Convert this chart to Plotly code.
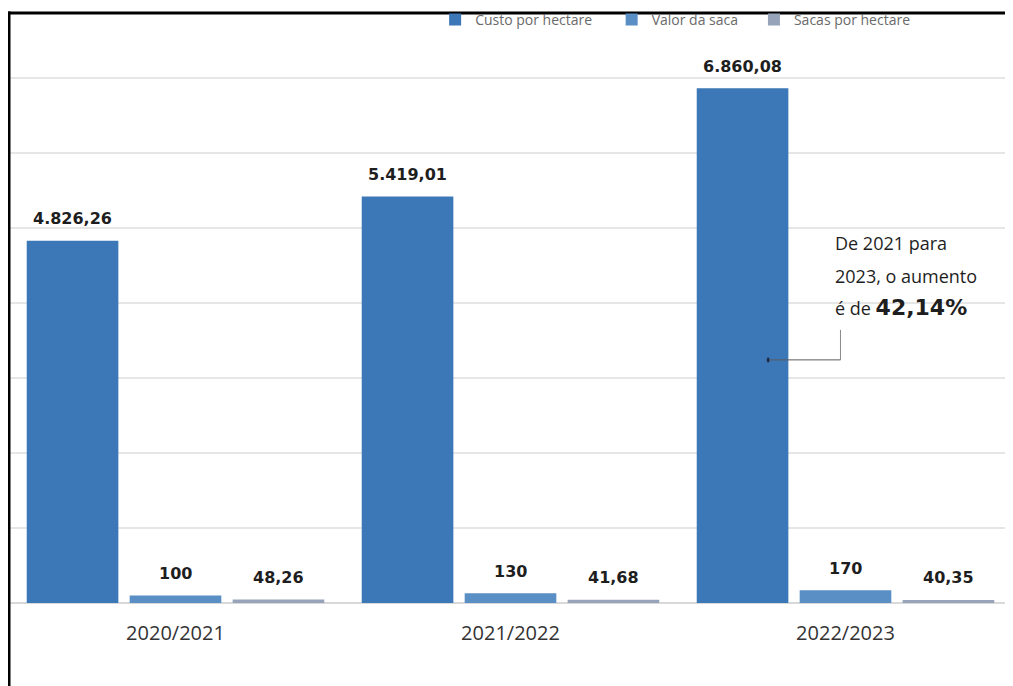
import plotly.graph_objects as go

categories = ["2020/2021", "2021/2022", "2022/2023"]
custo_por_hectare = [4826.26, 5419.01, 6860.08]
valor_da_saca = [100, 130, 170]
sacas_por_hectare = [48.26, 41.68, 40.35]
series_names = ["Custo por hectare", "Valor da saca", "Sacas por hectare"]
series_colors = ["#3c77b7", "#5a8fc6", "#96a3b8"]
NB = "\u00a0"
legend_pad = [4, 3, 0]
BARGAP = 0.078


def br(v):
    if float(v).is_integer():
        return f"{int(v):,}".replace(",", ".")
    s = f"{v:,.2f}"
    return s.replace(",", "X").replace(".", ",").replace("X", ".")


all_series = [custo_por_hectare, valor_da_saca, sacas_por_hectare]
fig = go.Figure()
for name, vals, col, pad in zip(series_names, all_series, series_colors, legend_pad):
    fig.add_trace(go.Bar(
        name=name + NB * pad, x=categories, y=vals, marker_color=col, marker_line_width=0,
    ))

# value labels above bars
step = (1 - BARGAP) / len(all_series)
lab_font = dict(family="DejaVu Sans", size=16, color="#1e1e1e", weight="bold")
for k, vals in enumerate(all_series):
    for i, v in enumerate(vals):
        fig.add_annotation(x=i + (k - 1) * step, y=v, xref="x", yref="y", text=br(v),
                           showarrow=False, yshift=22, yanchor="middle", xanchor="center",
                           font=lab_font)

# annotation text
ann_font = dict(family="Open Sans", size=18, color="#1e1e1e")
tx = 1.964
fig.add_annotation(x=tx, y=4800, xref="x", yref="y", text="De 2021 para",
                   showarrow=False, xanchor="left", yanchor="middle", font=ann_font)
fig.add_annotation(x=tx, y=4360, xref="x", yref="y", text="2023, o aumento",
                   showarrow=False, xanchor="left", yanchor="middle", font=ann_font)
fig.add_annotation(x=tx, y=3934, xref="x", yref="y",
                   text="é de <span style='font-family:DejaVu Sans;font-size:22px'><b>42,14%</b></span>",
                   showarrow=False, xanchor="left", yanchor="middle", font=ann_font)

# connector
fig.add_shape(type="line", xref="x", yref="y", x0=1.985, x1=1.985, y0=3640, y1=3240,
              line=dict(color="#8a8a8a", width=1))
fig.add_shape(type="line", xref="x", yref="y", x0=1.769, x1=1.985, y0=3240, y1=3240,
              line=dict(color="#5a5a5a", width=1))
fig.add_shape(type="circle", xref="x", yref="y", x0=1.765, x1=1.773, y0=3205, y1=3275,
              fillcolor="#1e2a44", line=dict(width=0))

# frame lines
fig.add_shape(type="line", xref="paper", yref="paper", x0=0, x1=1.02, y0=1.1153, y1=1.1153,
              line=dict(color="#000000", width=3))
fig.add_shape(type="line", xref="paper", yref="paper", x0=0.001, x1=0.001, y0=1.118, y1=-0.2,
              line=dict(color="#000000", width=3))

fig.update_layout(
    width=1005, height=678,
    margin=dict(l=0, r=0, t=66, b=83, autoexpand=False),
    paper_bgcolor="white", plot_bgcolor="white",
    barmode="group", bargap=BARGAP, bargroupgap=0.11,
    showlegend=True,
    legend=dict(orientation="h", xref="container", yref="container",
                x=0.425, y=1 - 12 / 678, xanchor="left", yanchor="middle",
                font=dict(family="Open Sans", size=14, color="#6a6a6a"),
                bgcolor="rgba(0,0,0,0)", itemclick=False),
    xaxis=dict(range=[-0.5, 2.5], showgrid=False, showline=False, ticks="",
               ticklabelstandoff=16,
               tickfont=dict(family="Open Sans", size=20, color="#333333")),
    yaxis=dict(range=[0, 7050], dtick=1000, showticklabels=False, showgrid=True,
               gridcolor="#e6e6e6", gridwidth=2, zeroline=True, zerolinecolor="#d9d9d9",
               zerolinewidth=2, showline=False),
)

fig.write_html("out.html")
